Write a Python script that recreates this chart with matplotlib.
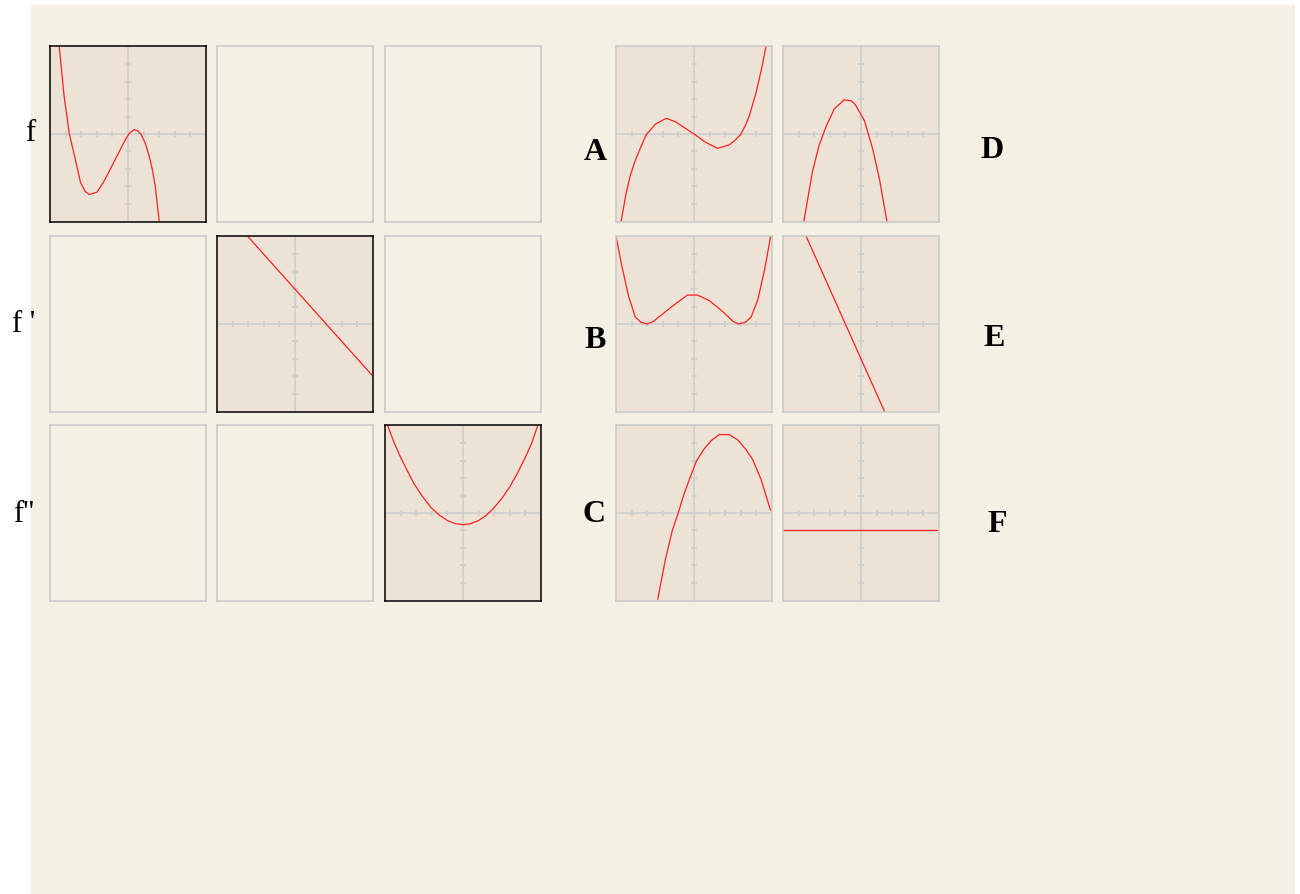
import matplotlib.pyplot as plt
import numpy as np

# curves (x, y in graph units, window [-5,5] x [-5,5])
f_x = [-4.41, -4.1, -3.76, -3.48, -3.05, -2.75, -2.47, -1.98, -1.6, -1.23, -0.9, -0.58, -0.15, 0.1, 0.39, 0.6, 0.82, 1.1, 1.35, 1.55, 1.74, 2.0]
f_y = [5.05, 2.2, 0.0, -1.05, -2.76, -3.3, -3.47, -3.33, -2.8, -2.19, -1.6, -1.05, -0.29, 0.05, 0.25, 0.2, 0.0, -0.5, -1.24, -2.0, -2.95, -5.0]

fp_x = [-3.0, 5.0]
fp_y = [5.0, -3.0]

fpp_x = [-4.84, -4.4, -4.0, -3.5, -3.12, -2.6, -2.04, -1.5, -1.0, -0.5, 0.0, 0.5, 1.0, 1.5, 1.94, 2.5, 3.0, 3.5, 4.0, 4.4, 4.8]
fpp_y = [5.05, 4.0, 3.2, 2.3, 1.65, 0.95, 0.3, -0.13, -0.43, -0.61, -0.67, -0.61, -0.43, -0.13, 0.25, 0.85, 1.5, 2.3, 3.2, 4.0, 5.05]

a_x = [-4.67, -4.35, -4.09, -3.8, -3.55, -3.08, -2.47, -1.78, -1.18, -0.54, 0.0, 0.75, 1.5, 2.26, 2.7, 3.01, 3.3, 3.55, 3.98, 4.37, 4.62]
a_y = [-5.0, -3.4, -2.4, -1.6, -1.05, -0.06, 0.57, 0.9, 0.7, 0.32, 0.0, -0.48, -0.82, -0.63, -0.3, 0.0, 0.5, 1.05, 2.38, 3.9, 5.05]

b_x = [-5.0, -4.62, -4.19, -3.76, -3.4, -3.01, -2.6, -2.26, -1.4, -0.43, 0.22, 0.97, 1.83, 2.5, 2.86, 3.3, 3.66, 4.09, 4.52, 4.9]
b_y = [5.05, 3.3, 1.58, 0.4, 0.1, 0.0, 0.15, 0.4, 1.01, 1.66, 1.66, 1.35, 0.72, 0.15, 0.0, 0.1, 0.4, 1.39, 3.1, 4.97]

c_x = [-2.32, -1.83, -1.4, -1.01, -0.65, -0.22, 0.15, 0.65, 1.1, 1.61, 2.26, 2.8, 3.33, 3.76, 4.3, 4.9]
c_y = [-4.93, -2.65, -1.03, 0.0, 1.07, 2.11, 2.97, 3.68, 4.15, 4.5, 4.5, 4.2, 3.64, 3.07, 1.92, 0.17]

d_x = [-3.66, -3.12, -2.69, -2.26, -1.72, -1.08, -0.6, -0.32, 0.22, 0.75, 1.18, 1.66]
d_y = [-5.0, -2.19, -0.67, 0.38, 1.43, 1.96, 1.9, 1.62, 0.76, -0.86, -2.57, -5.0]

e_x = [-3.5, 1.5]
e_y = [5.0, -5.0]

g_x = [-5.0, 5.0]
g_y = [-1.0, -1.0]

row_labels = ['f', "f '", "f''"]
letters = ['A', 'B', 'C', 'D', 'E', 'F']

W, H = 1300, 895
cream = '#F5F0E4'
panel_bg = '#EDE2D6'
grid_col = '#CCCCCC'

fig = plt.figure(figsize=(13, 8.95), dpi=100)
fig.patch.set_facecolor('white')

# cream background
bg = fig.add_axes([31 / W, 0, (1295 - 31) / W, 1 - 5.5 / H])
bg.set_facecolor(cream)
bg.set_xticks([])
bg.set_yticks([])
for s in bg.spines.values():
    s.set_visible(False)


def panel(x0, y0, curve=None, given=False):
    ax = fig.add_axes([x0 / W, 1 - (y0 + 176) / H, 156 / W, 176 / H])
    ax.set_xlim(-5, 5)
    ax.set_ylim(-5.05, 5.05)
    ax.set_xticks([])
    ax.set_yticks([])
    for s in ax.spines.values():
        if given:
            s.set_color('black')
            s.set_linewidth(1.1)
        else:
            s.set_color('#C8C8C8')
            s.set_linewidth(1.1)
    if curve is None:
        ax.set_facecolor(cream)
        return ax
    ax.set_facecolor(panel_bg)
    ax.axhline(0, color=grid_col, lw=1.1, zorder=1)
    ax.axvline(0, color=grid_col, lw=1.1, zorder=1)
    ticks = [-4, -3, -2, -1, 1, 2, 3, 4]
    ax.plot(ticks, [0] * 8, ls='none', marker='|', ms=4.5, mew=1.1, color=grid_col, zorder=1)
    ax.plot([0] * 8, ticks, ls='none', marker='_', ms=4.5, mew=1.1, color=grid_col, zorder=1)
    ax.plot(curve[0], curve[1], color='#FF2020', lw=0.9, zorder=2, clip_on=True)
    return ax


cols_l = [50, 217, 385]
rows = [47, 237, 426]
given = {(0, 0): (f_x, f_y), (1, 1): (fp_x, fp_y), (2, 2): (fpp_x, fpp_y)}
for r in range(3):
    for c in range(3):
        if (r, c) in given:
            panel(cols_l[c], rows[r], given[(r, c)], given=True)
        else:
            panel(cols_l[c], rows[r])

answers = [[(a_x, a_y), (d_x, d_y)], [(b_x, b_y), (e_x, e_y)], [(c_x, c_y), (g_x, g_y)]]
for r in range(3):
    for c in range(2):
        panel([616, 783][c], rows[r], answers[r][c])

label_y = [134, 324, 515]
label_x = [30, 24, 24]
for i, t in enumerate(row_labels):
    fig.text(label_x[i] / W, 1 - label_y[i] / H, t, family='Liberation Serif',
             fontsize=22, ha='center', va='center')

let_pos = [(595, 152), (595, 341), (594, 515), (992, 151), (994, 339), (997, 525)]
for t, (px, py) in zip(letters, let_pos):
    fig.text(px / W, 1 - py / H, t, family='Liberation Serif', fontweight='bold',
             fontsize=23, ha='center', va='center')

fig.savefig('out.png', dpi=100)
